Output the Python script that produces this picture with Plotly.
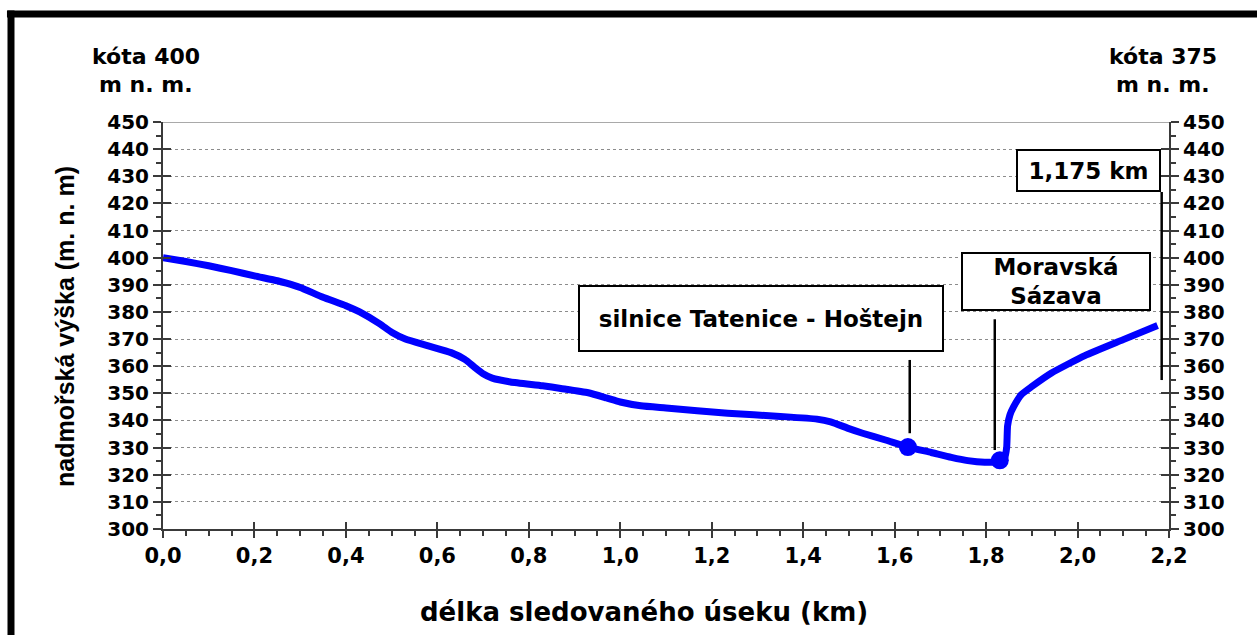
import plotly.graph_objects as go

# ---- data ----
distance_km = [0.0, 0.05, 0.10, 0.15, 0.20, 0.25, 0.27, 0.30, 0.35, 0.40, 0.43, 0.475,
               0.50, 0.53, 0.58, 0.63, 0.66, 0.68, 0.70, 0.72, 0.76, 0.83, 0.87, 0.93,
               0.97, 1.00, 1.045, 1.10, 1.235, 1.35, 1.43, 1.46, 1.50, 1.53, 1.58, 1.629,
               1.68, 1.724, 1.76, 1.797, 1.83, 1.840, 1.845, 1.847, 1.852, 1.86, 1.877,
               1.90, 1.943, 2.016, 2.10, 2.175]
elevation_m = [400.0, 398.6, 397.0, 395.2, 393.3, 391.5, 390.6, 389.0, 385.4, 382.3, 380.0, 375.5,
               372.5, 370.0, 367.5, 365.0, 362.5, 359.8, 357.2, 355.6, 354.2, 352.8, 351.8, 350.2,
               348.3, 346.8, 345.4, 344.6, 342.7, 341.5, 340.5, 339.5, 337.0, 335.3, 332.8, 330.2,
               328.2, 326.4, 325.2, 324.6, 324.8, 326.0, 330.0, 338.0, 342.0, 345.0, 349.5,
               352.5, 357.5, 363.9, 369.8, 375.0]

point_km = [1.629, 1.83]
point_m = [330.2, 325.3]

callout_text = ["silnice Tatenice - Hoštejn", "Moravská<br>Sázava", "1,175 km"]
callout_x = [1.308, 1.953, 2.024]
callout_y = [377.6, 391.2, 432.1]
callout_w = [362, 186, 141]
callout_h = [63, 55, 39]

leader_x = [1.633, 1.819, 2.184]
leader_y0 = [335.3, 329.1, 354.9]
leader_y1 = [362.3, 377.3, 424.2]

x_ticks = [0.0, 0.2, 0.4, 0.6, 0.8, 1.0, 1.2, 1.4, 1.6, 1.8, 2.0, 2.2]
y_ticks = list(range(300, 451, 10))

# ---- figure ----
BOLD = dict(family="DejaVu Sans", weight="bold", color="black")
AXCOL = "#3a3a3a"

fig = go.Figure()
fig.add_trace(go.Scatter(x=distance_km, y=elevation_m, mode="lines",
                         line=dict(color="#0000ff", width=7, shape="spline", smoothing=0.5),
                         hoverinfo="skip", showlegend=False))
fig.add_trace(go.Scatter(x=point_km, y=point_m, mode="markers",
                         marker=dict(color="#0000ff", size=18), hoverinfo="skip", showlegend=False))
# helper (invisible) traces to display right axis and crossing tick marks
fig.add_trace(go.Scatter(x=distance_km, y=elevation_m, xaxis="x", yaxis="y2", mode="lines",
                         opacity=0, hoverinfo="skip", showlegend=False))
fig.add_trace(go.Scatter(x=distance_km, y=elevation_m, xaxis="x2", yaxis="y3", mode="lines",
                         opacity=0, hoverinfo="skip", showlegend=False))
fig.add_trace(go.Scatter(x=distance_km, y=elevation_m, xaxis="x2", yaxis="y4", mode="lines",
                         opacity=0, hoverinfo="skip", showlegend=False))

yax_common = dict(range=[300, 450], tickvals=y_ticks, showline=True, linecolor=AXCOL, linewidth=2,
                  ticks="outside", ticklen=8, tickwidth=1.5, tickcolor=AXCOL,
                  tickfont=dict(size=20, **BOLD), zeroline=False,
                  minor=dict(dtick=5, tick0=300, ticks="outside", ticklen=5, tickcolor=AXCOL, showgrid=False))

fig.update_layout(
    width=1257, height=635,
    margin=dict(l=163, r=88, t=122, b=106),
    plot_bgcolor="white", paper_bgcolor="white",
    separators=", ",
    xaxis=dict(range=[0, 2.2], tickvals=x_ticks, tickformat=".1f", showline=True,
               linecolor=AXCOL, linewidth=2, ticks="outside", ticklen=7, tickwidth=1.5,
               tickcolor=AXCOL, tickfont=dict(size=21, **BOLD), showgrid=False, zeroline=False,
               minor=dict(dtick=0.05, tick0=0, ticks="outside", ticklen=5, tickcolor=AXCOL,
                          showgrid=False)),
    xaxis2=dict(range=[0, 2.2], overlaying="x", side="bottom", tickvals=x_ticks,
                ticks="inside", ticklen=7, tickwidth=1.5, tickcolor=AXCOL,
                showticklabels=False, showgrid=False, zeroline=False, showline=False),
    yaxis=dict(side="left", showgrid=True, gridcolor="#8c8c8c", griddash="dot", gridwidth=1,
               **yax_common),
    yaxis2=dict(side="right", overlaying="y", showgrid=False, **yax_common),
    yaxis3=dict(range=[300, 450], overlaying="y", side="left", tickvals=y_ticks, ticks="inside",
                ticklen=8, tickwidth=1.5, tickcolor=AXCOL, showticklabels=False, showgrid=False,
                zeroline=False, showline=False),
    yaxis4=dict(range=[300, 450], overlaying="y", side="right", tickvals=y_ticks, ticks="inside",
                ticklen=8, tickwidth=1.5, tickcolor=AXCOL, showticklabels=False, showgrid=False,
                zeroline=False, showline=False),
)

# top solid line of plot area
fig.add_shape(type="line", xref="paper", yref="y", x0=0, x1=1, y0=450, y1=450,
              line=dict(color="#8c8c8c", width=1.5), layer="below")

# outer frame (top and left)
fig.add_shape(type="line", xref="paper", yref="paper", x0=-0.1551, x1=1.1, y0=1.2654, y1=1.2654,
              line=dict(color="black", width=7))
fig.add_shape(type="line", xref="paper", yref="paper", x0=-0.1511, x1=-0.1511, y0=-0.3, y1=1.274,
              line=dict(color="black", width=7))

# leader lines
for lx, a, b in zip(leader_x, leader_y0, leader_y1):
    fig.add_shape(type="line", xref="x", yref="y", x0=lx, x1=lx, y0=a, y1=b,
                  line=dict(color="black", width=2.5))

# callout boxes
for t, cx, cy, w, h in zip(callout_text, callout_x, callout_y, callout_w, callout_h):
    fig.add_annotation(x=cx, y=cy, xref="x", yref="y", text=t, showarrow=False,
                       width=w, height=h, align="center", valign="middle",
                       bgcolor="white", bordercolor="black", borderwidth=2, borderpad=0,
                       font=dict(size=23, **BOLD))

# top labels
for xp, lines in [(-0.0169, ["kóta 400", "m n. m."]), (0.9937, ["kóta 375", "m n. m."])]:
    for i, line in enumerate(lines):
        ypix = 56 + 28 * i
        fig.add_annotation(x=xp, y=(529 - ypix) / 407, xref="paper", yref="paper", text=line,
                           showarrow=False, xanchor="center", yanchor="middle",
                           font=dict(size=22, **BOLD))

# axis titles
fig.add_annotation(x=(644 - 163) / 1006, y=(529 - 612) / 407, xref="paper", yref="paper",
                   text="délka sledovaného úseku (km)", showarrow=False,
                   xanchor="center", yanchor="middle", font=dict(size=26, **BOLD))
fig.add_annotation(x=(65 - 163) / 1006, y=(529 - 327) / 407, xref="paper", yref="paper",
                   text="nadmořská výška (m. n. m)", showarrow=False, textangle=-90,
                   xanchor="center", yanchor="middle",
                   font=dict(size=25, family="Liberation Sans Narrow, Liberation Sans",
                             weight="bold", color="black"))

fig.write_html("out.html", config={"displayModeBar": False},
               post_script="document.body.style.margin='0';document.body.style.overflow='hidden';")
